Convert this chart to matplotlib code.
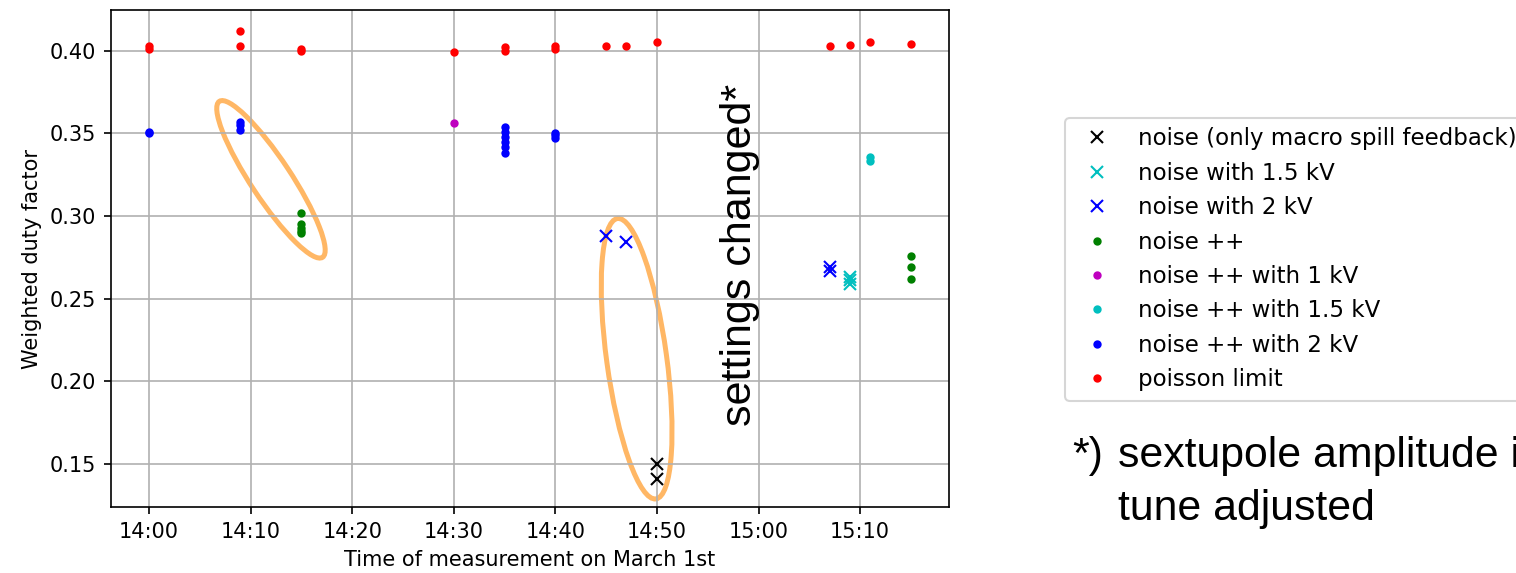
import matplotlib
matplotlib.use("Agg")
import matplotlib.pyplot as plt
import matplotlib.dates as mdates
from matplotlib.patches import Ellipse
from matplotlib.transforms import IdentityTransform
from datetime import datetime


def t(hm):
    h, m = hm.split(":")
    return datetime(2022, 3, 1, int(h), int(m))


# measurements on March 1st (time, weighted duty factor)
noise_only_t = ["14:50", "14:50"]
noise_only_v = [0.150, 0.141]

noise_15kv_t = ["15:09", "15:09", "15:09"]
noise_15kv_v = [0.263, 0.261, 0.259]

noise_2kv_t = ["14:45", "14:47", "15:07", "15:07"]
noise_2kv_v = [0.288, 0.284, 0.269, 0.267]

noisepp_t = ["14:15", "14:15", "14:15", "14:15", "14:15", "15:15", "15:15", "15:15"]
noisepp_v = [0.302, 0.295, 0.293, 0.291, 0.290, 0.276, 0.269, 0.262]

noisepp_1kv_t = ["14:30"]
noisepp_1kv_v = [0.356]

noisepp_15kv_t = ["15:11", "15:11"]
noisepp_15kv_v = [0.336, 0.333]

noisepp_2kv_t = ["14:00", "14:00", "14:09", "14:09", "14:09",
                 "14:35", "14:35", "14:35", "14:35", "14:35", "14:35",
                 "14:40", "14:40", "14:40"]
noisepp_2kv_v = [0.351, 0.350, 0.357, 0.355, 0.352,
                 0.354, 0.351, 0.348, 0.345, 0.342, 0.338,
                 0.350, 0.349, 0.347]

poisson_t = ["14:00", "14:00", "14:09", "14:09", "14:15", "14:15", "14:30",
             "14:35", "14:35", "14:40", "14:40", "14:45", "14:47", "14:50",
             "15:07", "15:09", "15:11", "15:15"]
poisson_v = [0.403, 0.401, 0.412, 0.403, 0.401, 0.400, 0.399,
             0.402, 0.400, 0.403, 0.401, 0.403, 0.403, 0.4055,
             0.403, 0.4035, 0.4055, 0.4038]

series = [
    (noise_only_t, noise_only_v, "kx", "noise (only macro spill feedback)"),
    (noise_15kv_t, noise_15kv_v, "cx", "noise with 1.5 kV"),
    (noise_2kv_t, noise_2kv_v, "bx", "noise with 2 kV"),
    (noisepp_t, noisepp_v, "g.", "noise ++"),
    (noisepp_1kv_t, noisepp_1kv_v, "m.", "noise ++ with 1 kV"),
    (noisepp_15kv_t, noisepp_15kv_v, "c.", "noise ++ with 1.5 kV"),
    (noisepp_2kv_t, noisepp_2kv_v, "b.", "noise ++ with 2 kV"),
    (poisson_t, poisson_v, "r.", "poisson limit"),
]

# highlighted groups: centre (time, value), length/width in pixels, tilt in degrees
marks = [
    ("14:12", 0.3222, 187, 40, -56.5),
    ("14:48", 0.2137, 283, 60, -82.2),
]

fig = plt.figure(figsize=(15.16 / 1.5, 5.73 / 1.5), dpi=150)
ax = fig.add_axes([0.0732, 0.1152, 0.5528, 0.8673])

for xs, ys, fmt, label in series:
    ax.plot([t(x) for x in xs], ys, fmt, label=label)

ax.set_ylim(0.124, 0.4246)
ax.xaxis.set_major_locator(mdates.MinuteLocator(byminute=range(0, 60, 10)))
ax.xaxis.set_major_formatter(mdates.DateFormatter("%H:%M"))
ax.grid(True)
ax.set_xlabel("Time of measurement on March 1st")
ax.set_ylabel("Weighted duty factor")

fig.legend(loc="upper left", bbox_to_anchor=(1065 / 1516, 1 - 118 / 573),
           borderaxespad=0, fontsize=11)

fig.canvas.draw()
for tm, val, length, width, angle in marks:
    cx, cy = ax.transData.transform((mdates.date2num(t(tm)), val))
    ax.add_patch(Ellipse((cx, cy), length, width, angle=angle,
                         transform=IdentityTransform(), fill=False,
                         edgecolor="#ffb765", linewidth=2.4, clip_on=False))

slide_font = ["Liberation Sans", "DejaVu Sans"]
fig.text(0.488, 0.555, "settings changed*", rotation=90, ha="center", va="center",
         fontsize=20.7, family=slide_font)
fig.text(1072 / 1516, 1 - 467 / 573, "*)", fontsize=20.5, family=slide_font,
         va="baseline")
fig.text(1118 / 1516, 1 - 467 / 573, "sextupole amplitude increased,",
         fontsize=20.5, family=slide_font, va="baseline")
fig.text(1118 / 1516, 1 - 520 / 573, "tune adjusted", fontsize=20.5,
         family=slide_font, va="baseline")

fig.savefig("out.png", dpi=150)
